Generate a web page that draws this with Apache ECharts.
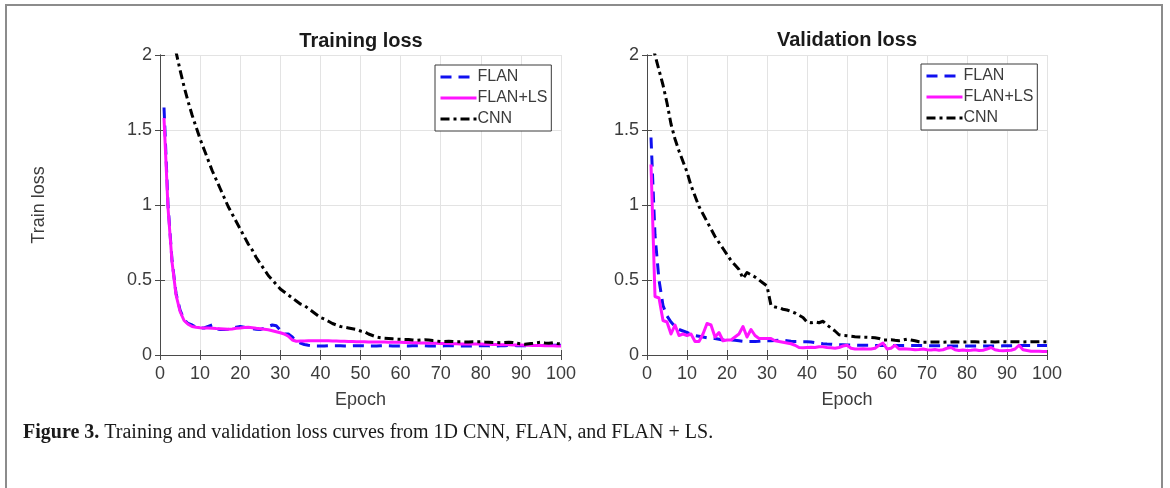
<!DOCTYPE html>
<html>
<head>
<meta charset="utf-8">
<script src="https://cdn.jsdelivr.net/npm/echarts@6/dist/echarts.min.js"></script>
<style>
  html, body { margin: 0; padding: 0; background: #ffffff; }
  #chart { width: 1170px; height: 488px; }
</style>
</head>
<body>
<div id="chart"></div>
<script>
// Epoch numbers shared by both panels
const epochs = Array.from({ length: 100 }, (_, i) => i + 1);

// Training loss per epoch
const trainFlan = [
  1.65, 1.00, 0.63, 0.41, 0.30, 0.235, 0.21, 0.20, 0.185, 0.18,
  0.18, 0.19, 0.20, 0.175, 0.17, 0.17, 0.172, 0.176, 0.185, 0.19,
  0.185, 0.18, 0.175, 0.172, 0.17, 0.178, 0.19, 0.20, 0.195, 0.165,
  0.14, 0.14, 0.12, 0.09, 0.08, 0.07, 0.065, 0.062, 0.06, 0.06,
  0.06, 0.061, 0.062, 0.062, 0.061, 0.06, 0.06, 0.061, 0.062, 0.062,
  0.061, 0.06, 0.06, 0.06, 0.061, 0.062, 0.061, 0.06, 0.06, 0.06,
  0.06, 0.06, 0.061, 0.062, 0.062, 0.061, 0.06, 0.06, 0.06, 0.06,
  0.061, 0.062, 0.062, 0.061, 0.06, 0.06, 0.06, 0.061, 0.062, 0.062,
  0.062, 0.061, 0.06, 0.06, 0.061, 0.062, 0.063, 0.063, 0.062, 0.062,
  0.062, 0.063, 0.064, 0.064, 0.063, 0.063, 0.064, 0.065, 0.065, 0.065
];
const trainFlanLs = [
  1.58, 0.98, 0.62, 0.40, 0.29, 0.23, 0.205, 0.19, 0.185, 0.182,
  0.18, 0.18, 0.178, 0.176, 0.175, 0.174, 0.172, 0.174, 0.178, 0.18,
  0.183, 0.185, 0.182, 0.178, 0.175, 0.172, 0.168, 0.162, 0.155, 0.148,
  0.14, 0.125, 0.10, 0.092, 0.093, 0.094, 0.095, 0.095, 0.095, 0.095,
  0.095, 0.095, 0.094, 0.093, 0.092, 0.091, 0.09, 0.09, 0.089, 0.088,
  0.088, 0.087, 0.087, 0.086, 0.086, 0.086, 0.085, 0.085, 0.085, 0.085,
  0.084, 0.083, 0.082, 0.081, 0.08, 0.08, 0.079, 0.078, 0.078, 0.077,
  0.077, 0.076, 0.075, 0.075, 0.074, 0.074, 0.073, 0.073, 0.073, 0.073,
  0.072, 0.071, 0.07, 0.07, 0.069, 0.068, 0.068, 0.067, 0.066, 0.066,
  0.065, 0.065, 0.064, 0.063, 0.063, 0.062, 0.062, 0.061, 0.06, 0.06
];
const trainCnn = [
  2.42, 2.28, 2.14, 2.02, 1.90, 1.79, 1.69, 1.60, 1.52, 1.44,
  1.37, 1.30, 1.23, 1.17, 1.11, 1.05, 0.99, 0.94, 0.89, 0.84,
  0.79, 0.74, 0.70, 0.65, 0.61, 0.57, 0.53, 0.50, 0.47, 0.44,
  0.42, 0.40, 0.38, 0.36, 0.34, 0.33, 0.31, 0.29, 0.27, 0.25,
  0.24, 0.225, 0.21, 0.20, 0.19, 0.185, 0.18, 0.175, 0.17, 0.16,
  0.155, 0.14, 0.13, 0.12, 0.115, 0.112, 0.11, 0.108, 0.106, 0.105,
  0.104, 0.103, 0.10, 0.098, 0.10, 0.102, 0.10, 0.096, 0.093, 0.09,
  0.09, 0.092, 0.09, 0.088, 0.088, 0.087, 0.087, 0.089, 0.088, 0.088,
  0.086, 0.085, 0.084, 0.083, 0.082, 0.083, 0.085, 0.083, 0.078, 0.074,
  0.072, 0.075, 0.078, 0.082, 0.085, 0.08, 0.078, 0.082, 0.077, 0.075
];

// Validation loss per epoch
const valFlan = [
  1.45, 0.80, 0.50, 0.33, 0.26, 0.22, 0.19, 0.17, 0.16, 0.15,
  0.14, 0.13, 0.125, 0.12, 0.115, 0.112, 0.11, 0.105, 0.10, 0.10,
  0.10, 0.098, 0.095, 0.092, 0.09, 0.09, 0.09, 0.092, 0.095, 0.095,
  0.095, 0.096, 0.098, 0.098, 0.095, 0.092, 0.09, 0.09, 0.088, 0.088,
  0.086, 0.082, 0.078, 0.075, 0.073, 0.072, 0.07, 0.069, 0.068, 0.067,
  0.066, 0.066, 0.065, 0.065, 0.065, 0.065, 0.064, 0.064, 0.064, 0.064,
  0.064, 0.064, 0.063, 0.063, 0.063, 0.063, 0.063, 0.063, 0.063, 0.063,
  0.062, 0.062, 0.061, 0.061, 0.06, 0.06, 0.06, 0.06, 0.06, 0.06,
  0.06, 0.06, 0.06, 0.06, 0.06, 0.06, 0.06, 0.06, 0.061, 0.062,
  0.062, 0.063, 0.063, 0.064, 0.064, 0.064, 0.064, 0.064, 0.064, 0.064
];
const valFlanLs = [
  1.27, 0.39, 0.38, 0.23, 0.22, 0.14, 0.20, 0.13, 0.14, 0.13,
  0.14, 0.09, 0.09, 0.14, 0.21, 0.20, 0.12, 0.15, 0.095, 0.10,
  0.10, 0.12, 0.14, 0.19, 0.12, 0.17, 0.13, 0.11, 0.11, 0.11,
  0.11, 0.095, 0.09, 0.085, 0.08, 0.075, 0.065, 0.05, 0.048, 0.05,
  0.052, 0.05, 0.055, 0.055, 0.05, 0.048, 0.045, 0.05, 0.06, 0.065,
  0.045, 0.04, 0.04, 0.042, 0.04, 0.04, 0.045, 0.065, 0.08, 0.04,
  0.045, 0.065, 0.04, 0.042, 0.04, 0.038, 0.035, 0.036, 0.04, 0.035,
  0.033, 0.036, 0.032, 0.035, 0.045, 0.05, 0.035, 0.03, 0.033, 0.03,
  0.032, 0.035, 0.03, 0.032, 0.04, 0.05, 0.035, 0.03, 0.028, 0.03,
  0.032, 0.04, 0.065, 0.035, 0.03, 0.025, 0.025, 0.025, 0.024, 0.024
];
const valCnn = [
  2.10, 2.00, 1.90, 1.80, 1.68, 1.54, 1.44, 1.36, 1.29, 1.22,
  1.13, 1.06, 0.99, 0.94, 0.89, 0.84, 0.79, 0.75, 0.71, 0.67,
  0.63, 0.60, 0.57, 0.51, 0.55, 0.535, 0.52, 0.50, 0.48, 0.46,
  0.33, 0.32, 0.315, 0.305, 0.30, 0.29, 0.28, 0.265, 0.25, 0.22,
  0.215, 0.22, 0.215, 0.225, 0.20, 0.18, 0.16, 0.135, 0.13, 0.128,
  0.125, 0.122, 0.12, 0.118, 0.118, 0.117, 0.115, 0.11, 0.10, 0.10,
  0.102, 0.098, 0.095, 0.10, 0.105, 0.10, 0.095, 0.088, 0.085, 0.085,
  0.086, 0.087, 0.086, 0.085, 0.086, 0.087, 0.088, 0.087, 0.086, 0.087,
  0.088, 0.088, 0.087, 0.088, 0.089, 0.088, 0.087, 0.088, 0.089, 0.088,
  0.088, 0.089, 0.088, 0.087, 0.088, 0.089, 0.089, 0.088, 0.089, 0.089
];

// Axis tick values
const xTicks = { min: 0, max: 100, interval: 10 };
const yTicks = { min: 0, max: 2, interval: 0.5 };

const panelTitles = ['Training loss', 'Validation loss'];
const seriesNames = ['FLAN', 'FLAN+LS', 'CNN'];

const FONT = 'Liberation Sans, Arial, Helvetica, sans-serif';
const SERIF = 'Liberation Serif, Times New Roman, serif';
const TEXT = '#3c3c3c';
const AXIS = '#4a4a4a';

const chart = echarts.init(document.getElementById('chart'), null, { renderer: 'canvas' });

const grids = [
  { left: 160, top: 55, width: 401, height: 300 },
  { left: 647, top: 55, width: 400, height: 300 }
];

function pairs(vals) { return epochs.map((e, i) => [e, vals[i]]); }

const xAxes = [], yAxes = [];
grids.forEach((g, gi) => {
  xAxes.push({
    type: 'value', gridIndex: gi, position: 'bottom',
    min: xTicks.min, max: xTicks.max, interval: xTicks.interval,
    name: 'Epoch', nameLocation: 'middle', nameGap: 36,
    nameTextStyle: { fontFamily: FONT, fontSize: 18, color: TEXT },
    axisLine: { lineStyle: { color: AXIS, width: 1 } },
    axisTick: { inside: true, length: 5, lineStyle: { color: AXIS } },
    axisLabel: { fontFamily: FONT, fontSize: 18, color: TEXT, margin: 10 },
    splitLine: { show: true, lineStyle: { color: '#e3e3e3', width: 1 } }
  });
  xAxes.push({
    type: 'value', gridIndex: gi, position: 'top',
    min: xTicks.min, max: xTicks.max, interval: xTicks.interval,
    axisLine: { lineStyle: { color: AXIS, width: 1 } },
    axisTick: { inside: true, length: 5, lineStyle: { color: AXIS } },
    axisLabel: { show: false }, splitLine: { show: false }
  });
  yAxes.push({
    type: 'value', gridIndex: gi, position: 'left',
    min: yTicks.min, max: yTicks.max, interval: yTicks.interval,
    name: gi === 0 ? 'Train loss' : '', nameLocation: 'middle', nameGap: 112,
    nameTextStyle: { fontFamily: FONT, fontSize: 18, color: TEXT },
    axisLine: { show: true, lineStyle: { color: AXIS, width: 1 } },
    axisTick: { show: true, inside: true, length: 5, lineStyle: { color: AXIS } },
    axisLabel: { fontFamily: FONT, fontSize: 18, color: TEXT, margin: 8 },
    splitLine: { show: true, lineStyle: { color: '#e3e3e3', width: 1 } }
  });
  yAxes.push({
    type: 'value', gridIndex: gi, position: 'right',
    min: yTicks.min, max: yTicks.max, interval: yTicks.interval,
    axisLine: { show: true, lineStyle: { color: AXIS, width: 1 } },
    axisTick: { show: true, inside: true, length: 5, lineStyle: { color: AXIS } },
    axisLabel: { show: false }, splitLine: { show: false }
  });
});

const styles = {
  'FLAN': { color: '#1010f0', width: 3, type: [11, 7] },
  'FLAN+LS': { color: '#ff14ff', width: 3, type: 'solid' },
  'CNN': { color: '#000000', width: 3, type: [9, 4, 3, 4] }
};

const panels = [
  [trainFlan, trainFlanLs, trainCnn],
  [valFlan, valFlanLs, valCnn]
];

const series = [];
panels.forEach((vals, gi) => {
  vals.forEach((v, si) => {
    const name = seriesNames[si];
    const st = styles[name];
    series.push({
      type: 'line', name: name,
      xAxisIndex: gi * 2, yAxisIndex: gi * 2,
      data: pairs(v),
      showSymbol: false, symbol: 'none',
      clip: true,
      lineStyle: { color: st.color, width: st.width, type: st.type, cap: 'butt', join: 'round' },
      itemStyle: { color: st.color },
      z: 2 + si
    });
  });
});

const legendBase = {
  orient: 'vertical',
  data: seriesNames,
  backgroundColor: '#ffffff',
  borderColor: '#3a3a3a', borderWidth: 1,
  padding: [4, 4, 4, 4],
  itemGap: 5,
  itemWidth: 36, itemHeight: 14,
  itemStyle: { opacity: 0 },
  lineStyle: { width: 3 },
  textStyle: { fontFamily: FONT, fontSize: 16, color: TEXT, padding: [0, 0, 0, -4] },
  selectedMode: false
};

const option = {
  animation: false,
  backgroundColor: '#ffffff',
  grid: grids.map(g => Object.assign({ containLabel: false }, g)),
  xAxis: xAxes,
  yAxis: yAxes,
  legend: [
    Object.assign({}, legendBase, { left: 435, top: 65 }),
    Object.assign({}, legendBase, { left: 921, top: 64 })
  ],
  series: series,
  graphic: [
    {
      type: 'rect', silent: true, z: 0,
      shape: { x: 6, y: 5, width: 1156, height: 700 },
      style: { fill: 'none', stroke: '#8c8c8c', lineWidth: 2 }
    },
    {
      type: 'text', x: 361, y: 41, silent: true,
      style: { text: panelTitles[0], fontFamily: FONT, fontSize: 20, fontWeight: 'bold',
        fill: '#1a1a1a', align: 'center', verticalAlign: 'middle' }
    },
    {
      type: 'text', x: 847, y: 40, silent: true,
      style: { text: panelTitles[1], fontFamily: FONT, fontSize: 20, fontWeight: 'bold',
        fill: '#1a1a1a', align: 'center', verticalAlign: 'middle' }
    },
    {
      type: 'text', x: 23, y: 433, silent: true,
      style: {
        text: '{b|Figure 3.} Training and validation loss curves from 1D CNN, FLAN, and FLAN + LS.',
        fontFamily: SERIF, fontSize: 20, fill: '#1a1a1a',
        verticalAlign: 'middle',
        rich: { b: { fontFamily: SERIF, fontSize: 20, fontWeight: 'bold', fill: '#1a1a1a' } }
      }
    }
  ]
};

chart.setOption(option);
</script>
</body>
</html>
